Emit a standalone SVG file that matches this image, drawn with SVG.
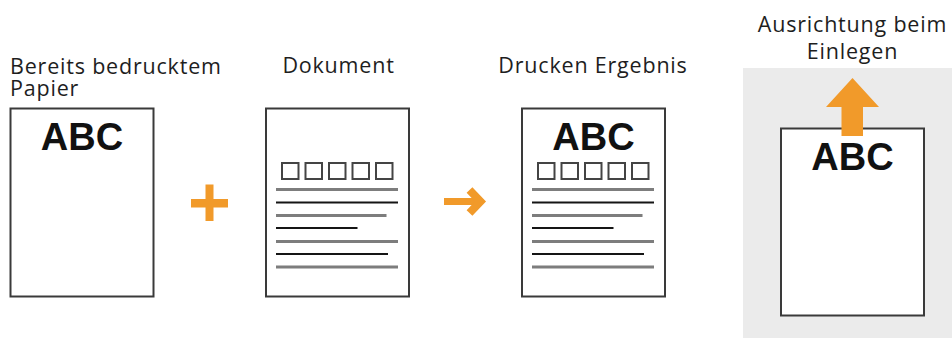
<svg xmlns="http://www.w3.org/2000/svg" xmlns:xlink="http://www.w3.org/1999/xlink" width="952" height="338" viewBox="0 0 952 338">
<style>
.lbl{font-family:"Open Sans","Noto Sans","DejaVu Sans",sans-serif;font-size:21.5px;letter-spacing:0.8px;fill:#1e1e1e}
.abc{font-family:"Liberation Sans",Arial,sans-serif;font-size:38px;font-weight:bold;fill:#111;text-anchor:middle}
.page{fill:#fff;stroke:#3a3a3a;stroke-width:2}
.box{fill:none;stroke:#444;stroke-width:2}
.lg{stroke:#7d7d7d;stroke-width:3;stroke-linecap:butt}
.lb{stroke:#151515;stroke-width:2;stroke-linecap:butt}
.orange{fill:#f19a2a}
</style>
<defs>
<g id="doc">
<rect class="box" x="16" y="55" width="16.5" height="16"/>
<rect class="box" x="39.5" y="55" width="16.5" height="16"/>
<rect class="box" x="63" y="55" width="16.5" height="16"/>
<rect class="box" x="86.5" y="55" width="16.5" height="16"/>
<rect class="box" x="110" y="55" width="16.5" height="16"/>
<line class="lg" x1="10" y1="81.5" x2="132" y2="81.5"/>
<line class="lb" x1="10" y1="94.5" x2="132" y2="94.5"/>
<line class="lg" x1="10" y1="107.5" x2="120.5" y2="107.5"/>
<line class="lb" x1="10" y1="120" x2="91.5" y2="120"/>
<line class="lg" x1="10" y1="133.5" x2="132" y2="133.5"/>
<line class="lb" x1="10" y1="146" x2="122" y2="146"/>
<line class="lg" x1="10" y1="159" x2="132" y2="159"/>
</g>
</defs>
<rect x="0" y="0" width="952" height="338" fill="#fff"/>

<g id="page1">
<text class="lbl" x="10" y="74">Bereits bedrucktem</text>
<text class="lbl" x="10" y="96">Papier</text>
<rect class="page" x="10.5" y="108.5" width="143" height="188"/>
<text class="abc" x="82" y="150">ABC</text>
</g>

<g id="page2">
<text class="lbl" x="338.5" y="73" text-anchor="middle">Dokument</text>
<rect class="page" x="266" y="108.5" width="143" height="188"/>
<use xlink:href="#doc" x="266" y="108"/>
</g>

<g id="page3">
<text class="lbl" x="593" y="73" text-anchor="middle">Drucken Ergebnis</text>
<rect class="page" x="522" y="108.5" width="143" height="188"/>
<text class="abc" x="593.5" y="150">ABC</text>
<use xlink:href="#doc" x="522" y="108"/>
</g>

<g id="panel4">
<text class="lbl" x="852.5" y="32" text-anchor="middle">Ausrichtung beim</text>
<text class="lbl" x="852.5" y="59" text-anchor="middle">Einlegen</text>
<rect x="743" y="68" width="209" height="270" fill="#ebebeb"/>
<rect class="page" x="781" y="128.5" width="143" height="187"/>
<text class="abc" x="852.5" y="169.5">ABC</text>
<polygon class="orange" points="852.5,78 879,107 863,107 863,136 841.5,136 841.5,107 826,107"/>
</g>

<g id="connectors">
<path class="orange" d="M205.5,184.5h8v14.5h14.5v8.5h-14.5v13.5h-8v-13.5h-14.5v-8.5h14.5z"/>
<line x1="444" y1="201.5" x2="477" y2="201.5" stroke="#f19a2a" stroke-width="7"/>
<polyline points="469.5,190 480.5,201.5 469.5,213" fill="none" stroke="#f19a2a" stroke-width="8" stroke-linejoin="miter"/>
</g>
</svg>
